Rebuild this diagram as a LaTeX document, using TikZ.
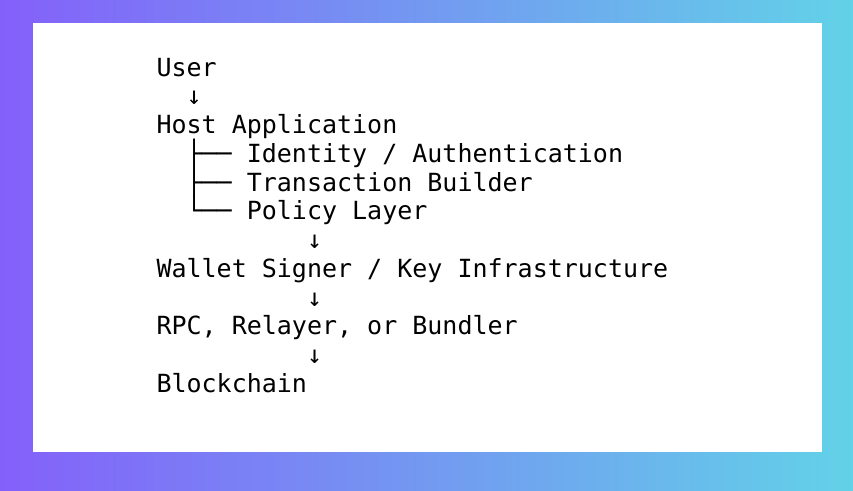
\documentclass[tikz,border=0pt]{standalone}
\usepackage{fontspec}
\newfontfamily\codefont{DejaVu Sans Mono}
\definecolor{bgleft}{RGB}{132,96,250}
\definecolor{bgright}{RGB}{98,210,232}
\tikzset{
  codeline/.style={anchor=base west, inner sep=0pt, outer sep=0pt,
    font=\codefont\fontsize{25}{28.75}\selectfont, text=black},
}
\begin{document}
\begin{tikzpicture}[x=1pt,y=1pt]
  \useasboundingbox (0,0) rectangle (853,-490);
  \shade[left color=bgleft, right color=bgright] (0,0) rectangle (853,-490);
  \fill[white] (33,-23) rectangle (822,-452);
  \def\lx{156.5}
  \node[codeline] (user)   at (\lx,-76)     {User};
  \node[codeline] (a1)     at (\lx,-104.75) {\ \ ↓};
  \node[codeline] (host)   at (\lx,-133.5)  {Host Application};
  \node[codeline] (ident)  at (\lx,-162.25) {\ \ ├──\ Identity / Authentication};
  \node[codeline] (txb)    at (\lx,-191)    {\ \ ├──\ Transaction Builder};
  \node[codeline] (policy) at (\lx,-219.75) {\ \ └──\ Policy Layer};
  \node[codeline] (a2)     at (\lx,-248.5)  {\ \ \ \ \ \ \ \ \ \ ↓};
  \node[codeline] (wallet) at (\lx,-277.25) {Wallet Signer / Key Infrastructure};
  \node[codeline] (a3)     at (\lx,-306)    {\ \ \ \ \ \ \ \ \ \ ↓};
  \node[codeline] (rpc)    at (\lx,-334.75) {RPC, Relayer, or Bundler};
  \node[codeline] (a4)     at (\lx,-363.5)  {\ \ \ \ \ \ \ \ \ \ ↓};
  \node[codeline] (chain)  at (\lx,-392.25) {Blockchain};
\end{tikzpicture}
\end{document}
